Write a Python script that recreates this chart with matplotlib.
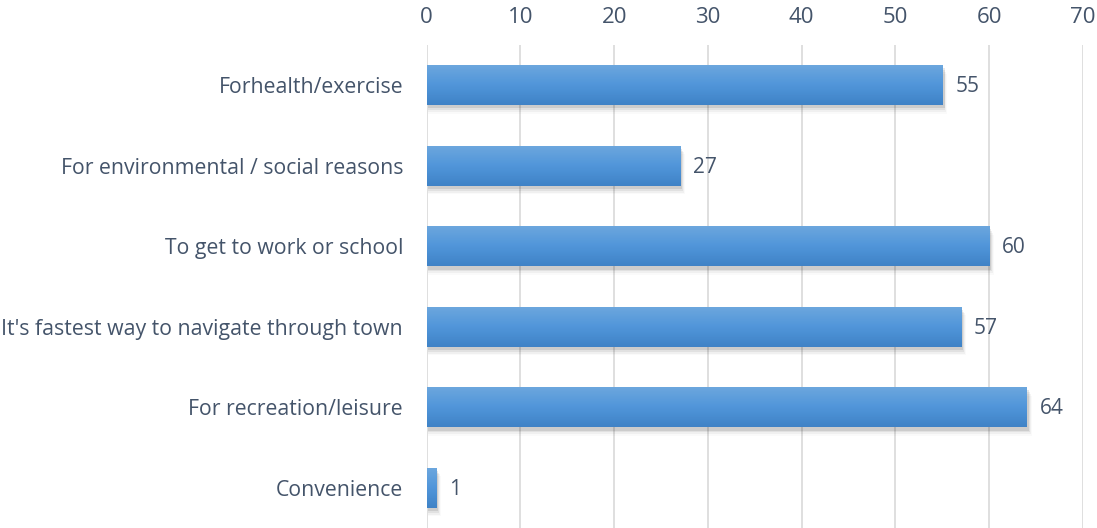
import numpy as np
import matplotlib
matplotlib.use('Agg')
import matplotlib.pyplot as plt
from matplotlib.patches import Rectangle

reasons = [
    "Forhealth/exercise",
    "For environmental / social reasons",
    "To get to work or school",
    "It's fastest way to navigate through town",
    "For recreation/leisure",
    "Convenience",
]
counts = [55, 27, 60, 57, 64, 1]
x_ticks = [0, 10, 20, 30, 40, 50, 60, 70]

text_color = '#44546a'
plt.rcParams['font.family'] = ['Open Sans', 'DejaVu Sans']

fig = plt.figure(figsize=(10.97, 5.28), dpi=100)
ax = fig.add_axes([0.389, 0.0, 0.598, 0.915])

ax.set_xlim(0, 70)
ax.set_ylim(len(reasons) - 0.5, -0.5)
bar_h = 0.5

# vertical blue gradient used to fill each bar
grad = np.linspace(0, 1, 64).reshape(-1, 1)
cmap = matplotlib.colors.LinearSegmentedColormap.from_list(
    'barfill', ['#6da7de', '#5196da', '#3f82c6'])

for i, v in enumerate(counts):
    # soft drop shadow
    for k, a in enumerate([0.09, 0.06, 0.04, 0.02]):
        off = 0.04 + 0.022 * k
        sh = Rectangle((0.15, i - bar_h / 2 + off), v + 0.1 * (k + 1), bar_h,
                       facecolor='black', alpha=a, edgecolor='none', zorder=2)
        ax.add_patch(sh)
    rect = Rectangle((0, i - bar_h / 2), v, bar_h, facecolor='none',
                     edgecolor='none', zorder=3)
    ax.add_patch(rect)
    im = ax.imshow(grad, cmap=cmap, aspect='auto', interpolation='bicubic',
                   extent=(0, v, i + bar_h / 2, i - bar_h / 2), zorder=3)
    im.set_clip_path(rect)
    ax.text(v + 1.4, i + 0.02, str(v), va='center', ha='left', fontsize=15,
            color=text_color, zorder=4)

ax.set_xlim(0, 70)
ax.set_ylim(len(reasons) - 0.5, -0.5)

ax.set_xticks(x_ticks)
ax.set_yticks(range(len(reasons)))
ax.set_yticklabels(reasons)
ax.xaxis.tick_top()
ax.tick_params(axis='both', length=0, colors=text_color)
ax.tick_params(axis='x', pad=12, labelsize=16)
ax.tick_params(axis='y', pad=17, labelsize=15.3)
ax.grid(axis='x', color='#d9d9d9', linewidth=1.2, zorder=0)
ax.set_axisbelow(True)
for s in ax.spines.values():
    s.set_visible(False)

fig.savefig('out.png', dpi=100)
